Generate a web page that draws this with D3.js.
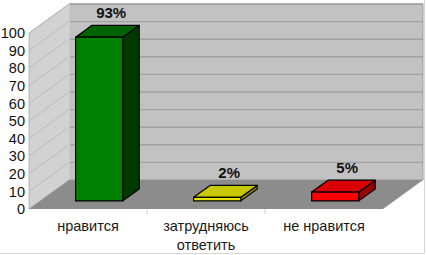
<!DOCTYPE html>
<html>
<head>
<meta charset="utf-8">
<script src="https://cdn.jsdelivr.net/npm/d3@7"></script>
<style>
  html, body { margin: 0; padding: 0; background: #fff; }
  svg { display: block; font-family: "Liberation Sans", Arial, sans-serif; }
</style>
</head>
<body>
<svg id="chart" width="426" height="255"></svg>
<script>
// Survey answers, percent of respondents
const categories = ["нравится", "затрудняюсь\nответить", "не нравится"];
const values = [93, 2, 5];
const valueLabels = ["93%", "2%", "5%"];
const yTicks = [0, 10, 20, 30, 40, 50, 60, 70, 80, 90, 100];
const faceColors = [
  { front: "#008000", top: "#006200", side: "#003a00" },
  { front: "#e4e400", top: "#c8c800", side: "#8c8c00" },
  { front: "#ff0000", top: "#d80000", side: "#9a0000" }
];

const svg = d3.select("#chart");

// Front plane of the 3D box and the depth offset to the back wall
const plotLeft = 29, plotRight = 383, plotBottom = 209, plotTop = 33;
const depthX = 40, depthY = -29;

const x = d3.scaleBand().domain(categories).range([plotLeft, plotRight])
  .paddingInner(0.6).paddingOuter(0.3);
const y = d3.scaleLinear().domain([0, 100]).range([plotBottom, plotTop]);

const poly = pts => pts.map(p => p.join(",")).join(" ");

// Back wall
svg.append("polygon")
  .attr("points", poly([[plotLeft + depthX, y(100) + depthY], [plotRight + depthX, y(100) + depthY],
                        [plotRight + depthX, plotBottom + depthY], [plotLeft + depthX, plotBottom + depthY]]))
  .attr("fill", "#c2c2c2").attr("stroke", "#9a9a9a").attr("stroke-width", 1);

// Left wall
svg.append("polygon")
  .attr("points", poly([[plotLeft, y(100)], [plotLeft + depthX, y(100) + depthY],
                        [plotLeft + depthX, plotBottom + depthY], [plotLeft, plotBottom]]))
  .attr("fill", "#d2d2d2").attr("stroke", "#a8a8a8").attr("stroke-width", 0.8);

// Gridlines on the back and left walls
yTicks.filter(t => t > 0).forEach(t => {
  svg.append("line")
    .attr("x1", plotLeft + depthX).attr("x2", plotRight + depthX)
    .attr("y1", y(t) + depthY).attr("y2", y(t) + depthY)
    .attr("stroke", "#a2a2a2").attr("stroke-width", 1.4);
  svg.append("line")
    .attr("x1", plotLeft).attr("x2", plotLeft + depthX)
    .attr("y1", y(t)).attr("y2", y(t) + depthY)
    .attr("stroke", "#bababa").attr("stroke-width", 1);
});

// Corner between the walls
svg.append("line")
  .attr("x1", plotLeft + depthX).attr("x2", plotLeft + depthX)
  .attr("y1", y(100) + depthY).attr("y2", plotBottom + depthY)
  .attr("stroke", "#e6e6e6").attr("stroke-width", 1);

// Floor
svg.append("polygon")
  .attr("points", poly([[plotLeft, plotBottom], [plotRight, plotBottom],
                        [plotRight + depthX, plotBottom + depthY], [plotLeft + depthX, plotBottom + depthY]]))
  .attr("fill", "#8c8c8c");

// Small ticks between categories below the floor
const step = x.step();
d3.range(1, categories.length).forEach(i => {
  const bx = plotLeft + step * i;
  svg.append("line").attr("x1", bx).attr("x2", bx)
    .attr("y1", plotBottom).attr("y2", plotBottom + 5)
    .attr("stroke", "#d0d0d0").attr("stroke-width", 1);
});

// Y axis labels
const yAxis = d3.axisLeft(y).tickValues(yTicks).tickSize(0).tickPadding(4);
const gy = svg.append("g").attr("transform", `translate(${plotLeft},0)`).call(yAxis);
gy.select(".domain").remove();
gy.selectAll("text").attr("font-size", 14.5).attr("fill", "#111")
  .attr("font-family", "\"Liberation Sans\", Arial, sans-serif");

// 3D bars placed in the middle of the depth
const f0 = 0.28, f1 = 0.69;
const bx0 = depthX * f0, by0 = depthY * f0;
const bdx = depthX * (f1 - f0), bdy = depthY * (f1 - f0);

categories.forEach((c, i) => {
  const xl = x(c) + bx0, xr = x(c) + x.bandwidth() + bx0;
  const yb = y(0) + by0, yt = y(values[i]) + by0;
  const col = faceColors[i];
  const g = svg.append("g").attr("stroke", "#000").attr("stroke-width", 1.2)
    .attr("stroke-linejoin", "round");
  g.append("polygon").attr("points", poly([[xr, yb], [xr + bdx, yb + bdy], [xr + bdx, yt + bdy], [xr, yt]]))
    .attr("fill", col.side);
  g.append("polygon").attr("points", poly([[xl, yt], [xr, yt], [xr + bdx, yt + bdy], [xl + bdx, yt + bdy]]))
    .attr("fill", col.top);
  g.append("rect").attr("x", xl).attr("y", yt).attr("width", xr - xl).attr("height", yb - yt)
    .attr("fill", col.front);

  svg.append("text")
    .attr("x", (xl + xr) / 2 + 12).attr("y", yt + bdy - 7)
    .attr("text-anchor", "middle").attr("font-size", 15).attr("font-weight", "bold")
    .attr("fill", "#111").text(valueLabels[i]);
});

// Category labels
categories.forEach(c => {
  const t = svg.append("text").attr("text-anchor", "middle")
    .attr("font-size", 14.5).attr("fill", "#1a1a1a");
  c.split("\n").forEach((line, k) => {
    t.append("tspan").attr("x", x(c) + x.bandwidth() / 2).attr("y", 231 + k * 19).text(line);
  });
});

// Outer frame
svg.append("path").attr("d", "M0,253.5 H424.5 V0")
  .attr("fill", "none").attr("stroke", "#d6d6d6").attr("stroke-width", 1);
</script>
</body>
</html>
